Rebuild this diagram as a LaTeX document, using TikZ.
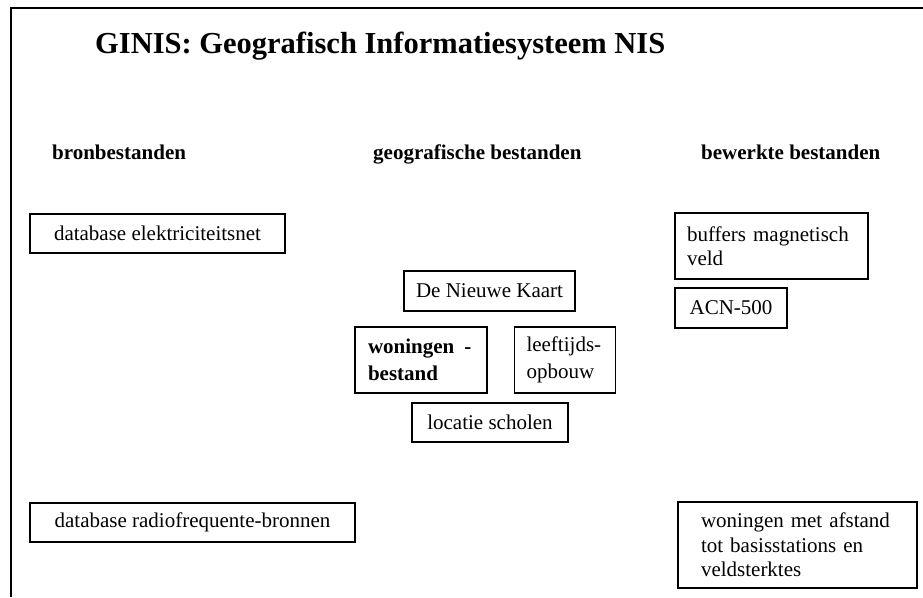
\documentclass[tikz,border=0pt]{standalone}
\usepackage{fontspec}
\setmainfont{Liberation Serif}
\begin{document}
\begin{tikzpicture}[x=1pt,y=-1pt,
  box/.style={draw, line width=1.1pt, inner sep=0pt, font=\fontsize{21}{24.5}\selectfont},
  lbox/.style={box, align=left},
  hdr/.style={anchor=base west, inner sep=0pt, font=\fontsize{21}{24}\selectfont\bfseries},
  ttl/.style={anchor=base west, inner sep=0pt, font=\fontsize{30.5}{34}\selectfont\bfseries}]
\useasboundingbox (0,0) rectangle (923,597);
\draw[line width=2.4pt] (11,597) -- (11,8) -- (923,8);
\node[ttl] (title) at (95,53) {GINIS: Geografisch Informatiesysteem NIS};
\node[hdr] (h1) at (52,159) {bronbestanden};
\node[hdr] (h2) at (373,159) {geografische bestanden};
\node[hdr] (h3) at (701,159) {bewerkte bestanden};
\node[box, minimum width=255pt, minimum height=39pt] (elec) at (157.5,233.5) {database elektriciteitsnet};
\node[box, minimum width=325pt, minimum height=39pt] (radio) at (192.5,522.5) {database radiofrequente-bronnen};
\node[box, minimum width=171pt, minimum height=40pt] (kaart) at (489.5,291) {De Nieuwe Kaart};
\node[lbox, inner xsep=13pt, text width=106pt, minimum height=66pt, font=\fontsize{21}{27}\selectfont\bfseries] (won) at (421,360) {woningen\hspace{10pt}-\\bestand};
\node[lbox, inner xsep=12pt, text width=77pt, minimum height=66pt, font=\fontsize{21}{27}\selectfont] (leef) at (565,360) {leeftijds-\\opbouw};
\node[box, minimum width=156pt, minimum height=39pt] (school) at (490,422.5) {locatie scholen};
\node[lbox, inner xsep=12pt, text width=169pt, minimum height=66pt] (buf) at (771.5,246) {buffers magnetisch\\veld};
\node[box, minimum width=112pt, minimum height=40pt] (acn) at (731,308) {ACN-500};
\node[lbox, inner xsep=23pt, text width=193pt, minimum height=86pt] (afst) at (797.5,545) {woningen met afstand\\tot basisstations en\\veldsterktes};
\end{tikzpicture}
\end{document}
